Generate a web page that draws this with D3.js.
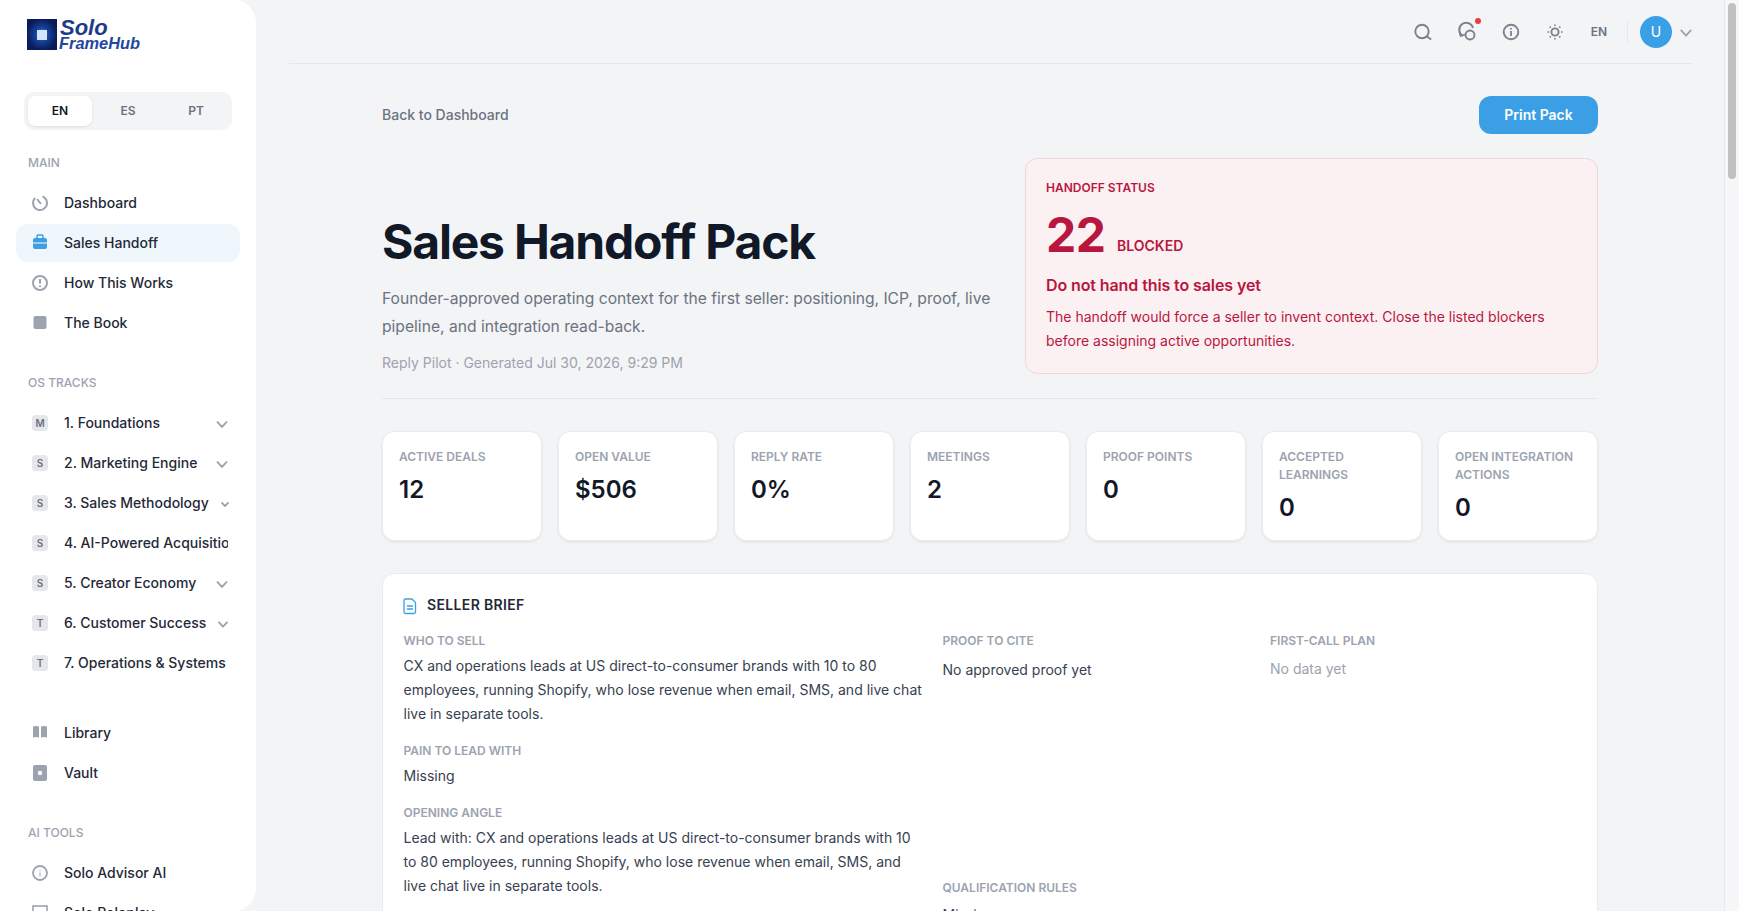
<!DOCTYPE html>
<html>
<head>
<meta charset="utf-8">
<title>Sales Handoff Pack</title>
<script src="https://cdn.jsdelivr.net/npm/d3@7"></script>
<style>
	html, body { margin: 0; padding: 0; overflow: hidden; background: #f3f4f6; }
	svg { display: block; }
	text { font-family: Inter, "Noto Sans", sans-serif; }
</style>
</head>
<body>
<svg id="page" width="1739" height="911"></svg>
<script>
// Page content
const langs = ["EN", "ES", "PT"];
const mainNav = ["Dashboard", "Sales Handoff", "How This Works", "The Book"];
const trackNames = ["1. Foundations", "2. Marketing Engine", "3. Sales Methodology", "4. AI-Powered Acquisition", "5. Creator Economy", "6. Customer Success", "7. Operations & Systems"];
const trackBadges = ["M", "S", "S", "S", "S", "T", "T"];
const lowerNav = ["Library", "Vault"];
const aiNav = ["Solo Advisor AI", "Solo Roleplay"];

const kpiLabels = [["ACTIVE DEALS"], ["OPEN VALUE"], ["REPLY RATE"], ["MEETINGS"], ["PROOF POINTS"], ["ACCEPTED", "LEARNINGS"], ["OPEN INTEGRATION", "ACTIONS"]];
const kpiValues = ["12", "$506", "0%", "2", "0", "0", "0"];

const subtitleLines = ["Founder-approved operating context for the first seller: positioning, ICP, proof, live", "pipeline, and integration read-back."];
const statusLines = ["The handoff would force a seller to invent context. Close the listed blockers", "before assigning active opportunities."];
const whoLines = ["CX and operations leads at US direct-to-consumer brands with 10 to 80", "employees, running Shopify, who lose revenue when email, SMS, and live chat", "live in separate tools."];
const openingLines = ["Lead with: CX and operations leads at US direct-to-consumer brands with 10", "to 80 employees, running Shopify, who lose revenue when email, SMS, and", "live chat live in separate tools."];

const svg = d3.select("#page");
const defs = svg.append("defs");

let shadow = defs.append("filter").attr("id", "cardShadow").attr("x", "-5%").attr("y", "-5%").attr("width", "110%").attr("height", "115%");
shadow.append("feDropShadow").attr("dx", 0).attr("dy", 1).attr("stdDeviation", 1.2).attr("flood-color", "#000").attr("flood-opacity", 0.09);

let logoGrad = defs.append("radialGradient").attr("id", "logoGrad");
logoGrad.append("stop").attr("offset", "0%").attr("stop-color", "#4d8be0");
logoGrad.append("stop").attr("offset", "45%").attr("stop-color", "#15429c");
logoGrad.append("stop").attr("offset", "100%").attr("stop-color", "#0a1c58");

defs.append("clipPath").attr("id", "navClip").append("rect").attr("x", 0).attr("y", 0).attr("width", 228).attr("height", 911);

function label(g, str, x, y, size, weight, color, anchor) {
	return g.append("text")
		.attr("x", x).attr("y", y)
		.attr("font-size", size)
		.attr("font-weight", weight)
		.attr("fill", color)
		.attr("text-anchor", anchor || "start")
		.text(str);
}

function chevron(g, x, y, w, color) {
	g.append("path")
		.attr("d", "M" + (x - w) + "," + (y - w * 0.55) + "L" + x + "," + (y + w * 0.55) + "L" + (x + w) + "," + (y - w * 0.55))
		.attr("fill", "none").attr("stroke", color).attr("stroke-width", 1.8)
		.attr("stroke-linecap", "round").attr("stroke-linejoin", "round");
}

// ---- Sidebar ----
let side = svg.append("g");
side.append("rect").attr("x", -30).attr("y", -1).attr("width", 286).attr("height", 913).attr("rx", 24).attr("fill", "#fff");

// Logo
side.append("rect").attr("x", 27).attr("y", 19).attr("width", 30).attr("height", 31).attr("fill", "url(#logoGrad)");
side.append("rect").attr("x", 37).attr("y", 30).attr("width", 10).attr("height", 10).attr("fill", "#d5e4f8");
label(side, "Solo", 60, 35, 22, 700, "#1e3a8a").style("font-family", "Liberation Sans").style("font-style", "italic");
label(side, "FrameHub", 59, 49, 17, 700, "#2347a0").style("font-family", "Liberation Sans").style("font-style", "italic").attr("textLength", 81).attr("lengthAdjust", "spacingAndGlyphs");

// Language switch
let langX = d3.scalePoint().domain(langs).range([60, 196]);
side.append("rect").attr("x", 24).attr("y", 92).attr("width", 208).attr("height", 38).attr("rx", 10).attr("fill", "#f3f4f6");
side.append("rect").attr("x", 28).attr("y", 96).attr("width", 64).attr("height", 30).attr("rx", 8).attr("fill", "#fff").attr("filter", "url(#cardShadow)");
langs.forEach((d, i) => {
	label(side, d, langX(d), 115, 12, 600, i == 0 ? "#111827" : "#6b7280", "middle");
});

// Nav sections
let navY = d3.scaleLinear().domain([0, 1]).range([0, 40]);
label(side, "MAIN", 28, 167, 12, 500, "#9ca3af");
label(side, "OS TRACKS", 28, 387, 12, 500, "#9ca3af");
label(side, "AI TOOLS", 28, 837, 12, 500, "#9ca3af");

side.append("rect").attr("x", 16).attr("y", 224).attr("width", 224).attr("height", 38).attr("rx", 12).attr("fill", "#eff6fc");

function navRow(str, cy) {
	label(side, str, 64, cy + 5, 14, 500, "#1f2937").attr("clip-path", "url(#navClip)");
}
mainNav.forEach((d, i) => navRow(d, 203 + navY(i)));
lowerNav.forEach((d, i) => navRow(d, 733 + navY(i)));
aiNav.forEach((d, i) => navRow(d, 873 + navY(i)));

// Nav icons
const grey = "#9ca3af";
let ic = side.append("g");
ic.append("circle").attr("cx", 40).attr("cy", 203).attr("r", 7).attr("fill", "none").attr("stroke", grey).attr("stroke-width", 2).attr("stroke-dasharray", "36 8").attr("transform", "rotate(-70 40 203)");
ic.append("path").attr("d", "M37,199L41,204").attr("stroke", grey).attr("stroke-width", 2);
ic.append("rect").attr("x", 33).attr("y", 238).attr("width", 14).attr("height", 11).attr("rx", 2).attr("fill", "#3b9fe6");
ic.append("path").attr("d", "M37,238v-2a1,1 0 0 1 1,-1h4a1,1 0 0 1 1,1v2").attr("fill", "none").attr("stroke", "#3b9fe6").attr("stroke-width", 1.5);
ic.append("path").attr("d", "M33,243H47").attr("stroke", "#fff").attr("stroke-width", 1);
ic.append("circle").attr("cx", 40).attr("cy", 283).attr("r", 7).attr("fill", "none").attr("stroke", grey).attr("stroke-width", 2);
ic.append("path").attr("d", "M40,279V283.5M40,285.5V287").attr("stroke", grey).attr("stroke-width", 2);
ic.append("rect").attr("x", 33.5).attr("y", 316).attr("width", 13).attr("height", 13).attr("rx", 2).attr("fill", grey);
ic.append("path").attr("d", "M33,726.5q3,-1 6,0v11q-3,-1 -6,0zM41,726.5q3,-1 6,0v11q-3,-1 -6,0z").attr("fill", grey);
ic.append("rect").attr("x", 33).attr("y", 765).attr("width", 14).attr("height", 16).attr("rx", 2).attr("fill", grey);
ic.append("circle").attr("cx", 40).attr("cy", 773).attr("r", 2.2).attr("fill", "#fff");
ic.append("circle").attr("cx", 40).attr("cy", 873).attr("r", 7).attr("fill", "none").attr("stroke", grey).attr("stroke-width", 1.8);
ic.append("path").attr("d", "M40,870V871M40,872.5V876.5").attr("stroke", grey).attr("stroke-width", 1);
ic.append("rect").attr("x", 33).attr("y", 906).attr("width", 14).attr("height", 14).attr("fill", "none").attr("stroke", grey).attr("stroke-width", 1.6);

// Track rows
let trackChevronX = [222, 222, 225, 0, 222, 223, 0];
let trackChevronW = [4.5, 4.5, 3, 0, 4.5, 4, 0];
trackNames.forEach((d, i) => {
	let cy = 423 + navY(i);
	side.append("rect").attr("x", 32).attr("y", cy - 8).attr("width", 16).attr("height", 16).attr("rx", 3.5).attr("fill", "#e5e7eb");
	label(side, trackBadges[i], 40, cy + 3.5, 10, 600, "#6b7280", "middle");
	navRow(d, cy);
	if (trackChevronW[i] > 0) chevron(side, trackChevronX[i], cy + 1.5, trackChevronW[i], grey);
});

// ---- Top bar ----
let topBar = svg.append("g");
const iconColor = "#7b818c";
topBar.append("path").attr("d", "M289,63.5H1693").attr("stroke", "#e5e7eb").attr("stroke-width", 1);

// search
topBar.append("circle").attr("cx", 1422).attr("cy", 31.5).attr("r", 6.7).attr("fill", "none").attr("stroke", iconColor).attr("stroke-width", 1.9);
topBar.append("path").attr("d", "M1427,36.5L1430.5,39").attr("stroke", iconColor).attr("stroke-width", 1.9).attr("stroke-linecap", "round");
// notifications
topBar.append("path").attr("d", "M1463,36a7,7 0 1 1 10,-8").attr("fill", "none").attr("stroke", iconColor).attr("stroke-width", 1.9);
topBar.append("path").attr("d", "M1459.5,31.5L1460.5,36L1465,34.5").attr("fill", "none").attr("stroke", iconColor).attr("stroke-width", 1.6);
topBar.append("circle").attr("cx", 1470).attr("cy", 35).attr("r", 4.5).attr("fill", "none").attr("stroke", iconColor).attr("stroke-width", 1.9);
topBar.append("circle").attr("cx", 1478).attr("cy", 21).attr("r", 3).attr("fill", "#ef3b45");
// info
topBar.append("circle").attr("cx", 1511).attr("cy", 32).attr("r", 7.3).attr("fill", "none").attr("stroke", iconColor).attr("stroke-width", 1.9);
topBar.append("path").attr("d", "M1511,28V29.5M1511,31V36").attr("stroke", iconColor).attr("stroke-width", 1.8);
// theme
topBar.append("circle").attr("cx", 1555).attr("cy", 32).attr("r", 3.6).attr("fill", "none").attr("stroke", iconColor).attr("stroke-width", 1.9);
d3.range(8).forEach(i => {
	let a = i * Math.PI / 4;
	topBar.append("path")
		.attr("d", "M" + (1555 + 6 * Math.cos(a)) + "," + (32 + 6 * Math.sin(a)) + "L" + (1555 + 7.6 * Math.cos(a)) + "," + (32 + 7.6 * Math.sin(a)))
		.attr("stroke", iconColor).attr("stroke-width", 1.6);
});
label(topBar, "EN", 1599, 36, 12, 600, "#6b7280", "middle");
topBar.append("path").attr("d", "M1627.5,20V44").attr("stroke", "#e5e7eb");
topBar.append("circle").attr("cx", 1656).attr("cy", 32).attr("r", 16).attr("fill", "#3b9fe6");
label(topBar, "U", 1656, 37, 14, 400, "#fff", "middle");
chevron(topBar, 1686, 33, 4.8, grey);

// Scrollbar
svg.append("rect").attr("x", 1724).attr("y", 0).attr("width", 15).attr("height", 911).attr("fill", "#f6f7f8");
svg.append("path").attr("d", "M1724.5,0V911").attr("stroke", "#e8e8e8");
svg.append("rect").attr("x", 1728).attr("y", 3).attr("width", 8).attr("height", 176).attr("rx", 4).attr("fill", "#c1c1c1");

// ---- Header ----
let head = svg.append("g");
label(head, "Back to Dashboard", 382, 120, 14, 500, "#6b7280");
head.append("rect").attr("x", 1479).attr("y", 96).attr("width", 119).attr("height", 38).attr("rx", 12).attr("fill", "#3b9fe6");
label(head, "Print Pack", 1538.5, 120, 14, 600, "#fff", "middle");

label(head, "Sales Handoff Pack", 382, 259, 48, 700, "#111827").attr("letter-spacing", "-1.2px");
subtitleLines.forEach((d, i) => label(head, d, 382, 304 + i * 28, 15.65, 400, "#6b7280"));
label(head, "Reply Pilot · Generated Jul 30, 2026, 9:29 PM", 382, 368, 14, 400, "#9ca3af");
head.append("path").attr("d", "M382,398.5H1598").attr("stroke", "#e5e7eb");

// Status card
let stat = svg.append("g");
stat.append("rect").attr("x", 1025.5).attr("y", 158.5).attr("width", 572).attr("height", 215).attr("rx", 12).attr("fill", "#fcf1f2").attr("stroke", "#f2d5da");
label(stat, "HANDOFF STATUS", 1046, 192, 12, 600, "#b9163f");
label(stat, "22", 1046, 252, 48, 700, "#b9163f").attr("letter-spacing", "-0.5px");
label(stat, "BLOCKED", 1117, 251, 14, 600, "#b9163f");
label(stat, "Do not hand this to sales yet", 1046, 291, 16, 600, "#b9163f").attr("letter-spacing", "-0.1px");
statusLines.forEach((d, i) => label(stat, d, 1046, 322 + i * 24, 14, 400, "#b9163f"));

// ---- KPI cards ----
let kpiX = d3.scaleBand().domain(d3.range(kpiValues.length)).range([382, 1598]).paddingInner(16 / 176);
let kpi = svg.selectAll("g.kpi").data(kpiValues).enter().append("g").attr("class", "kpi")
	.attr("transform", (d, i) => "translate(" + kpiX(i) + ",431)");
kpi.append("rect").attr("x", 0.5).attr("y", 0.5).attr("width", kpiX.bandwidth() - 1).attr("height", 109).attr("rx", 12).attr("fill", "#fff").attr("stroke", "#e9ebee").attr("filter", "url(#cardShadow)");
kpi.each(function(d, i) {
	let g = d3.select(this);
	kpiLabels[i].forEach((s, j) => label(g, s, 17, 30 + j * 18, 12, 600, "#9ca3af"));
	label(g, d, 17, 67 + (kpiLabels[i].length - 1) * 18, 24, 600, "#111827");
});

// ---- Seller brief ----
let brief = svg.append("g");
brief.append("rect").attr("x", 382.5).attr("y", 573.5).attr("width", 1215).attr("height", 400).attr("rx", 12).attr("fill", "#fff").attr("stroke", "#e9ebee");
brief.append("path").attr("d", "M405.5,599h6.5l3.5,3.5v9.5a1.5,1.5 0 0 1 -1.5,1.5h-8.5a1.5,1.5 0 0 1 -1.5,-1.5v-11.5a1.5,1.5 0 0 1 1.5,-1.5zM407,606h6M407,609h6").attr("fill", "none").attr("stroke", "#3b9fe6").attr("stroke-width", 1.3);
label(brief, "SELLER BRIEF", 427, 610, 14, 600, "#1f2937").attr("letter-spacing", "0.35px");

const fieldColor = "#9ca3af";
const bodyColor = "#374151";
label(brief, "WHO TO SELL", 403.5, 645, 12, 600, fieldColor);
whoLines.forEach((d, i) => label(brief, d, 403.5, 671 + i * 24, 14, 400, bodyColor));
label(brief, "PAIN TO LEAD WITH", 403.5, 755, 12, 600, fieldColor);
label(brief, "Missing", 403.5, 781, 14, 400, bodyColor);
label(brief, "OPENING ANGLE", 403.5, 817, 12, 600, fieldColor);
openingLines.forEach((d, i) => label(brief, d, 403.5, 843 + i * 24, 14, 400, bodyColor));

label(brief, "PROOF TO CITE", 942.5, 645, 12, 600, fieldColor);
label(brief, "No approved proof yet", 942.5, 675, 14, 400, bodyColor);
label(brief, "QUALIFICATION RULES", 942.5, 892, 12, 600, fieldColor);
label(brief, "Missing", 942.5, 920, 14, 400, bodyColor);

label(brief, "FIRST-CALL PLAN", 1270, 645, 12, 600, fieldColor);
label(brief, "No data yet", 1270, 674, 14, 400, fieldColor);
</script>
</body>
</html>
